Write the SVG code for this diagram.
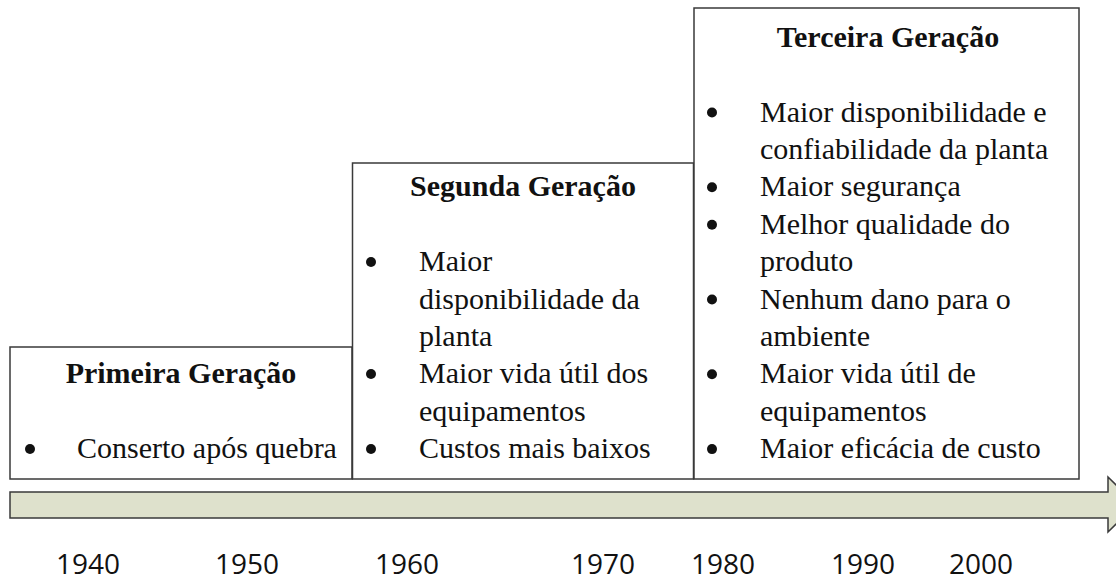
<svg xmlns="http://www.w3.org/2000/svg" width="1116" height="580" viewBox="0 0 1116 580">
<style>
.box{fill:#fff;stroke:#3a3a3a;stroke-width:1.5}
.t{font-family:"Liberation Serif","Times New Roman",serif;font-size:30px;fill:#111}
.h{font-family:"Liberation Serif","Times New Roman",serif;font-size:30px;font-weight:bold;fill:#111;text-anchor:middle}
.b{fill:#111}
.yr{font-family:"Open Sans","Liberation Sans",sans-serif;font-size:28px;fill:#111}
.arr{fill:#dee1cc;stroke:#3a3a3a;stroke-width:1.5}
</style>
<rect width="1116" height="580" fill="#fff"/>
<g id="timeline">
<path class="arr" d="M10,492 H1108 V477 L1136,504.5 L1108,532 V518 H10 Z"/>
</g>
<g id="primeira">
<rect class="box" x="10" y="347" width="342" height="132"/>
<text class="h" x="181" y="383.3">Primeira Geração</text>
<circle class="b" cx="30" cy="449" r="5"/>
<text class="t" x="77" y="458.1">Conserto após quebra</text>
</g>
<g id="segunda">
<rect class="box" x="352.5" y="163" width="341" height="316"/>
<text class="h" x="523" y="196.3">Segunda Geração</text>
<g class="b">
<circle cx="371" cy="262" r="5"/>
<circle cx="371" cy="374" r="5"/>
<circle cx="371" cy="449" r="5"/>
</g>
<text class="t" x="419" y="271.1">Maior</text>
<text class="t" x="419" y="308.5">disponibilidade da</text>
<text class="t" x="419" y="345.9">planta</text>
<text class="t" x="419" y="383.3">Maior vida útil dos</text>
<text class="t" x="419" y="420.7">equipamentos</text>
<text class="t" x="419" y="458.1">Custos mais baixos</text>
</g>
<g id="terceira">
<rect class="box" x="694" y="8" width="385" height="471"/>
<text class="h" x="888" y="47">Terceira Geração</text>
<g class="b">
<circle cx="712" cy="112.5" r="5"/>
<circle cx="712" cy="187.3" r="5"/>
<circle cx="712" cy="224.7" r="5"/>
<circle cx="712" cy="299.5" r="5"/>
<circle cx="712" cy="374.3" r="5"/>
<circle cx="712" cy="449.1" r="5"/>
</g>
<text class="t" x="760" y="121.5">Maior disponibilidade e</text>
<text class="t" x="760" y="158.9">confiabilidade da planta</text>
<text class="t" x="760" y="196.3">Maior segurança</text>
<text class="t" x="760" y="233.7">Melhor qualidade do</text>
<text class="t" x="760" y="271.1">produto</text>
<text class="t" x="760" y="308.5">Nenhum dano para o</text>
<text class="t" x="760" y="345.9">ambiente</text>
<text class="t" x="760" y="383.3">Maior vida útil de</text>
<text class="t" x="760" y="420.7">equipamentos</text>
<text class="t" x="760" y="458.1">Maior eficácia de custo</text>
</g>
<g id="years">
<text class="yr" x="56" y="574">1940</text>
<text class="yr" x="215" y="574">1950</text>
<text class="yr" x="375" y="574">1960</text>
<text class="yr" x="571" y="574">1970</text>
<text class="yr" x="691" y="574">1980</text>
<text class="yr" x="831" y="574">1990</text>
<text class="yr" x="949" y="574">2000</text>
</g>
</svg>
